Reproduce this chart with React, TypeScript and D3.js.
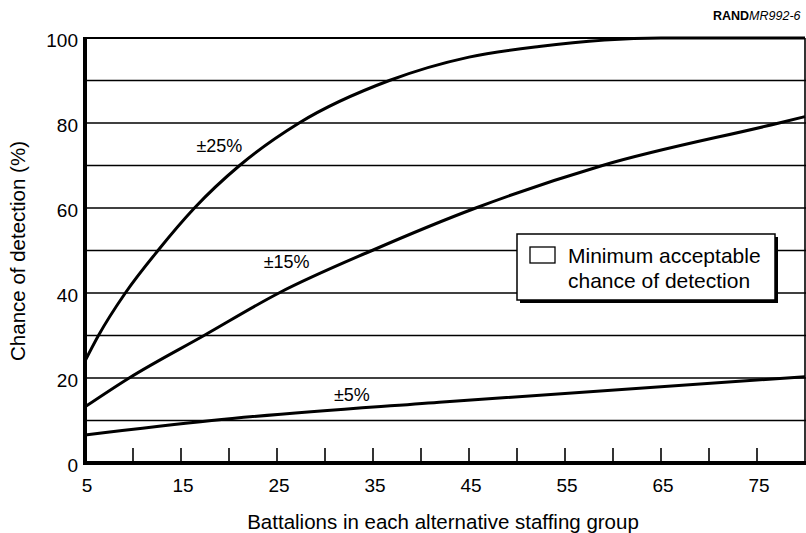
import React from 'react';
import * as d3 from 'd3';

// ---- data ----
const xTickLabels = [5, 15, 25, 35, 45, 55, 65, 75];
const xMinorTicks = [10, 15, 20, 25, 30, 35, 40, 45, 50, 55, 60, 65, 70, 75];
const yTickLabels = [0, 20, 40, 60, 80, 100];
const yGridLines = [10, 20, 30, 40, 50, 60, 70, 80, 90];

const battalions25 = [5, 6.4, 9.2, 12.6, 16.4, 21.1, 27.3, 36.7, 45, 52.3, 65, 80];
const detection25 = [24, 30, 40, 50, 60, 70, 80, 90, 95.5, 98, 100, 100];

const battalions15 = [5, 9.6, 17.4, 25.2, 34.9, 45.7, 58.9, 77.3, 80];
const detection15 = [13.2, 20, 30, 40, 50, 60, 70, 80, 81.5];

const battalions5 = [5, 18.2, 41.9, 80];
const detection5 = [6.6, 10, 14.3, 20.3];

const seriesNames = ['±25%', '±15%', '±5%'];
const labelX = [19, 26, 32.8];
const labelY = [73.2, 45.9, 14.6];

const legendLines = ['Minimum acceptable', 'chance of detection'];

const W = 806;
const H = 533;
const FONT = "'Liberation Sans', Arial, Helvetica, sans-serif";

export default function App() {
  const x = d3.scaleLinear().domain([5, 80]).range([85, 805]);
  const y = d3.scaleLinear().domain([0, 100]).range([463, 38]);

  const line = d3
    .line<[number, number]>()
    .x((d) => x(d[0]))
    .y((d) => y(d[1]))
    .curve(d3.curveMonotoneX);

  const series: [number, number][][] = [
    battalions25.map((b, i) => [b, detection25[i]] as [number, number]),
    battalions15.map((b, i) => [b, detection15[i]] as [number, number]),
    battalions5.map((b, i) => [b, detection5[i]] as [number, number]),
  ];

  const x0 = x(5);
  const x1 = x(80);

  return (
    <svg
      width={W}
      height={H}
      viewBox={`0 0 ${W} ${H}`}
      style={{ position: 'absolute', left: 0, top: 0, background: '#fff' }}
      fontFamily={FONT}
    >
      <rect x={0} y={0} width={W} height={H} fill="#fff" />

      {/* source label */}
      <text x={713} y={20} fontSize={12.5} fill="#000">
        <tspan fontWeight="bold">RAND</tspan>
        <tspan fontStyle="italic">MR992-6</tspan>
      </text>

      {/* grid lines */}
      {yGridLines.map((v) => (
        <line key={v} x1={x0} x2={x1 + 2} y1={y(v)} y2={y(v)} stroke="#000" strokeWidth={1.4} />
      ))}

      {/* frame top and right */}
      <line x1={x0} x2={x1} y1={y(100)} y2={y(100)} stroke="#000" strokeWidth={2} />
      <line x1={x1} x2={x1} y1={y(100)} y2={y(0)} stroke="#000" strokeWidth={1.6} />

      {/* minor ticks on x axis */}
      {xMinorTicks.map((v) => (
        <line key={v} x1={x(v)} x2={x(v)} y1={y(0)} y2={y(0) - 15} stroke="#000" strokeWidth={1.6} />
      ))}

      {/* curves */}
      {series.map((s, i) => (
        <path key={i} d={line(s) || ''} fill="none" stroke="#000" strokeWidth={3} strokeLinejoin="round" />
      ))}

      {/* axes */}
      <line x1={x0} x2={x0} y1={y(100) - 1} y2={y(0) + 2} stroke="#000" strokeWidth={4} />
      <line x1={x0 - 2} x2={x1 + 1} y1={y(0)} y2={y(0)} stroke="#000" strokeWidth={4} />

      {/* y tick labels */}
      {yTickLabels.map((v) => (
        <text key={v} x={78} y={y(v) + 9} fontSize={19} textAnchor="end" fill="#000">
          {v}
        </text>
      ))}

      {/* x tick labels */}
      {xTickLabels.map((v) => (
        <text key={v} x={x(v) + 2} y={492} fontSize={19} textAnchor="middle" fill="#000">
          {v}
        </text>
      ))}

      {/* series labels */}
      {seriesNames.map((n, i) => (
        <text key={n} x={x(labelX[i])} y={y(labelY[i])} fontSize={18} textAnchor="middle" fill="#000">
          {n}
        </text>
      ))}

      {/* legend */}
      <rect x={520} y={237} width={258} height={66} fill="#000" />
      <rect x={517} y={234} width={258} height={66} fill="#fff" stroke="#000" strokeWidth={1.5} />
      <rect x={530} y={247} width={25} height={16} fill="#fff" stroke="#000" strokeWidth={1.3} />
      {legendLines.map((t, i) => (
        <text key={t} x={568} y={263 + i * 25} fontSize={21} fill="#000">
          {t}
        </text>
      ))}

      {/* axis titles */}
      <text x={443} y={529} fontSize={20.5} textAnchor="middle" fill="#000">
        Battalions in each alternative staffing group
      </text>
      <text
        transform={`translate(25, 251) rotate(-90)`}
        fontSize={20.5}
        textAnchor="middle"
        fill="#000"
      >
        Chance of detection (%)
      </text>
    </svg>
  );
}
